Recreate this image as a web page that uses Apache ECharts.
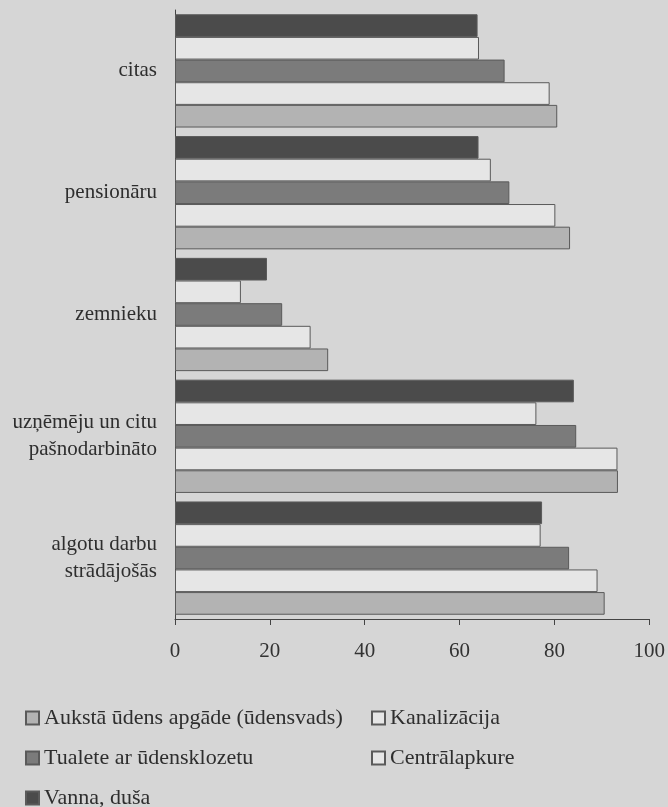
<!DOCTYPE html>
<html>
<head>
<meta charset="utf-8">
<script src="https://cdn.jsdelivr.net/npm/echarts@6/dist/echarts.min.js"></script>
<style>
  html, body { margin: 0; padding: 0; background: #d6d6d6; }
  #main { width: 668px; height: 807px; }
</style>
</head>
<body>
<div id="main"></div>
<script>
// categories bottom -> top (ECharts puts the first category at the bottom)
var categories = ['algotu darbu\nstrādājošās', 'uzņēmēju un citu\npašnodarbināto', 'zemnieku', 'pensionāru', 'citas'];

var seriesNames = ['Aukstā ūdens apgāde (ūdensvads)', 'Kanalizācija', 'Tualete ar ūdensklozetu', 'Centrālapkure', 'Vanna, duša'];

var aukstaUdens = [90.6, 93.4, 32.3, 83.3, 80.6];
var kanalizacija = [89.1, 93.3, 28.6, 80.2, 79.0];
var tualete = [83.1, 84.6, 22.6, 70.5, 69.5];
var centralapkure = [77.1, 76.2, 13.9, 66.6, 64.1];
var vanna = [77.4, 84.1, 19.4, 64.0, 63.8];

var values = [aukstaUdens, kanalizacija, tualete, centralapkure, vanna];
var colors = ['#b3b3b3', '#e6e6e6', '#7b7b7b', '#e6e6e6', '#4b4b4b'];

var font = 'Liberation Serif';
var myChart = echarts.init(document.getElementById('main'));

// first series is drawn on top of each group, so go from Vanna down to Aukstā
var series = [];
for (var i = seriesNames.length - 1; i >= 0; i--) {
    series.push({
        name: seriesNames[i],
        type: 'bar',
        data: values[i],
        barGap: '0%',
        barCategoryGap: '7%',
        itemStyle: {
            color: colors[i],
            borderColor: '#5a5a5a',
            borderWidth: 1
        }
    });
}

// one legend per item so they sit in the two columns like the original
var legendPos = [[25, 707], [371, 707], [25, 747], [371, 747], [25, 787]];
var legends = seriesNames.map(function (name, i) {
    return {
        left: legendPos[i][0],
        top: legendPos[i][1],
        padding: 0,
        icon: 'rect',
        itemWidth: 13,
        itemHeight: 13,
        itemGap: 5,
        textStyle: { fontFamily: font, fontSize: 22, color: '#2e2e2e' },
        data: [name]
    };
});

option = {
    backgroundColor: '#d6d6d6',
    animation: false,
    grid: {
        left: 175,
        right: 15,
        top: 10,
        bottom: 188
    },
    legend: legends,
    xAxis: {
        type: 'value',
        min: 0,
        max: 100,
        interval: 20,
        splitLine: { show: false },
        axisLine: { show: true, lineStyle: { color: '#444' } },
        axisTick: { show: true, length: 6, lineStyle: { color: '#444' } },
        axisLabel: { fontFamily: font, fontSize: 21, color: '#333', margin: 22 }
    },
    yAxis: {
        type: 'category',
        data: categories,
        axisLine: { lineStyle: { color: '#444' } },
        axisTick: { length: 6, lineStyle: { color: '#444' } },
        axisLabel: { fontFamily: font, fontSize: 21, color: '#2e2e2e', margin: 18, lineHeight: 27 }
    },
    series: series
};
myChart.setOption(option);
</script>
</body>
</html>
